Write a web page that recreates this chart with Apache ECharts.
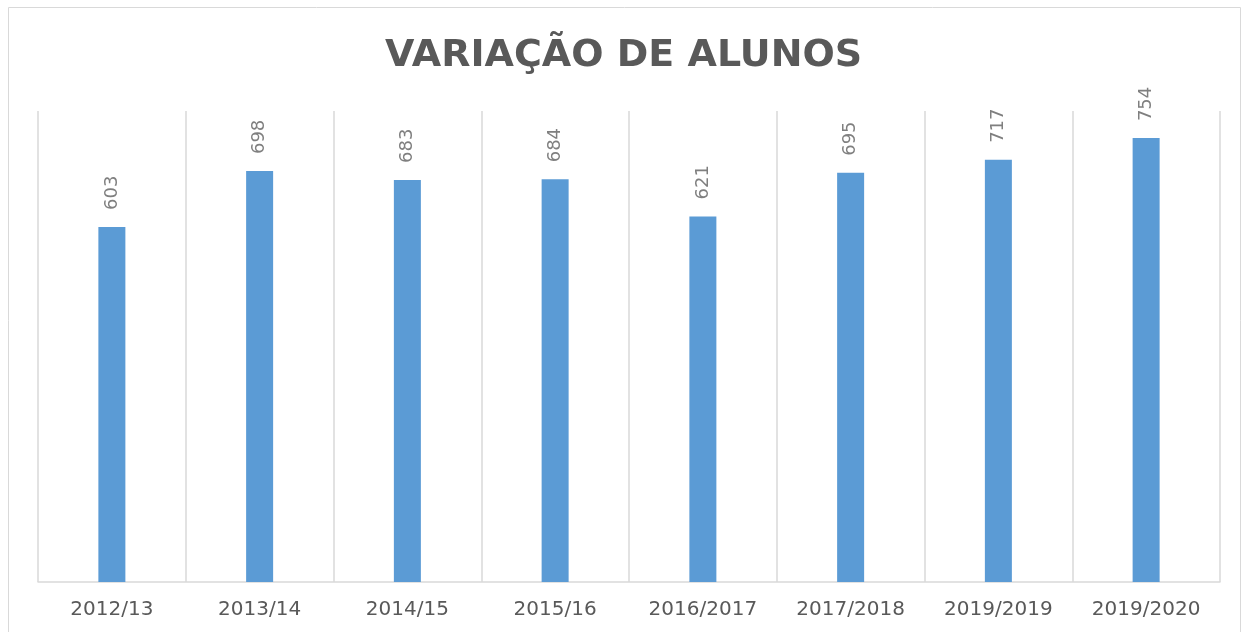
<!DOCTYPE html>
<html>
<head>
<meta charset="utf-8">
<style>
  html, body { margin: 0; padding: 0; background: #fff; }
  #chart { width: 1247px; height: 632px; }
</style>
<script src="https://cdn.jsdelivr.net/npm/echarts@6/dist/echarts.min.js"></script>
</head>
<body>
<div id="chart"></div>
<script>
  // anos letivos
  var categories = ['2012/13', '2013/14', '2014/15', '2015/16', '2016/2017', '2017/2018', '2019/2019', '2019/2020'];
  // número de alunos
  var alunos = [603, 698, 683, 684, 621, 695, 717, 754];

  var myChart = echarts.init(document.getElementById('chart'));
  myChart.setOption({
    animation: false,
    title: {
      text: 'VARIAÇÃO DE ALUNOS',
      left: 'center',
      top: 32,
      textStyle: {
        fontFamily: 'DejaVu Sans',
        fontWeight: 'bold',
        fontSize: 38,
        color: '#595959'
      }
    },
    graphic: [{
      type: 'rect',
      shape: { x: 8.5, y: 7.5, width: 1232, height: 640 },
      style: { fill: 'none', stroke: '#d9d9d9', lineWidth: 1 },
      silent: true
    }],
    grid: { left: 38, right: 27, top: 111, bottom: 50 },
    xAxis: {
      type: 'category',
      data: categories,
      axisLine: { show: true, lineStyle: { color: '#d9d9d9', width: 1.5 } },
      axisTick: { show: false },
      splitLine: { show: true, interval: 0, lineStyle: { color: '#d9d9d9', width: 1.5 } },
      axisLabel: {
        interval: 0,
        margin: 18,
        fontFamily: 'DejaVu Sans',
        fontSize: 20,
        color: '#595959'
      }
    },
    yAxis: {
      type: 'value',
      min: 0,
      max: 800,
      show: false,
      splitLine: { show: false }
    },
    series: [{
      type: 'bar',
      data: alunos,
      barWidth: 27,
      itemStyle: { color: '#5b9bd5' },
      label: {
        show: true,
        position: 'top',
        rotate: 90,
        align: 'left',
        verticalAlign: 'middle',
        distance: 17,
        fontFamily: 'DejaVu Sans',
        fontSize: 18,
        color: '#7f7f7f'
      }
    }]
  });
</script>
</body>
</html>
